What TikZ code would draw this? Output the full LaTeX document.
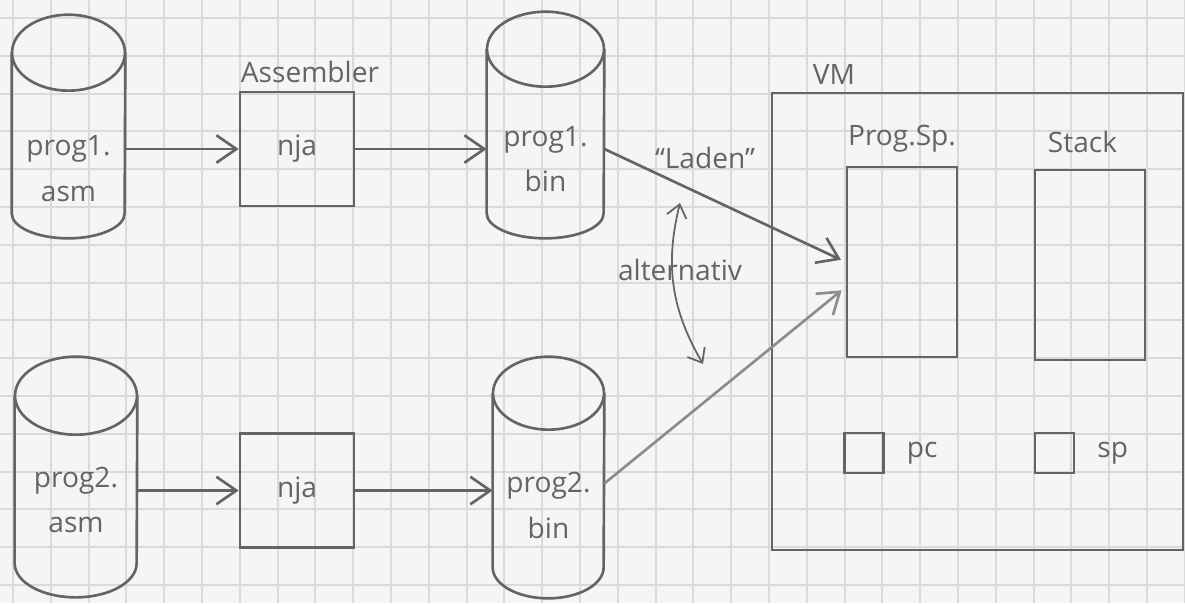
\documentclass[tikz,border=0pt]{standalone}
\usepackage{fontspec}
\setmainfont{Open Sans}
\usetikzlibrary{arrows.meta,positioning,calc}
\definecolor{pencil}{RGB}{100,100,100}
\definecolor{pencillight}{RGB}{140,140,140}
\definecolor{paper}{RGB}{245,245,245}
\definecolor{gridgray}{RGB}{218,218,218}
\tikzset{
  lbl/.style={text=pencil, align=center, font=\fontsize{16}{26}\selectfont, inner sep=1pt},
  dbbody/.style={inner sep=0pt},
  dbline/.style={draw=pencil, line width=1.5pt},
  asmbox/.style={draw=pencil, line width=1.5pt, minimum width=2.28cm, minimum height=2.28cm, text=pencil, font=\fontsize{16}{20}\selectfont},
  mem/.style={draw=pencil, line width=1.5pt, minimum width=2.2cm, minimum height=3.8cm},
  reg/.style={draw=pencil, line width=1.5pt, minimum width=0.78cm, minimum height=0.8cm},
  arrow/.style={-{Straight Barb[length=4mm,width=5.5mm]}, line width=1.5pt, draw=pencil},
  lightarrow/.style={arrow, draw=pencillight},
  altarrow/.style={{Straight Barb[length=2.5mm,width=4mm]}-{Straight Barb[length=2.5mm,width=4mm]}, line width=1pt, draw=pencil}
}
% database drum around a node: #1 node, #2 half width, #3 top cap, #4 bottom cap
\newcommand{\drum}[4]{%
  \draw[dbline] ([yshift=-#3]#1.north) ellipse [x radius=#2, y radius=#3];
  \draw[dbline] ([yshift=-#3]#1.north west) -- ([yshift=#4]#1.south west)
    arc[start angle=180, end angle=360, x radius=#2, y radius=#4] -- ([yshift=-#3]#1.north east);}

\begin{document}
\begin{tikzpicture}[x=0.02cm, y=-0.02cm]
  \useasboundingbox (0,0) rectangle (1185,603);
  \fill[paper] (0,0) rectangle (1185,603);
  % squared paper
  \foreach \k in {0,...,31} \draw[gridgray, line width=1.1pt] ({13+37.8*\k},0) -- ({13+37.8*\k},603);
  \foreach \k in {0,...,15} \draw[gridgray, line width=1.1pt] (0,{18+37.8*\k}) -- (1185,{18+37.8*\k});

  % first program
  \node[dbbody, minimum width=2.26cm, minimum height=4.46cm] (asmA) at (68.5,126.5) {};
  \drum{asmA}{1.13cm}{0.76cm}{0.5cm}
  \node[lbl] (asmAtxt) at ([yshift=-0.84cm]asmA.center) {prog1.\\asm};
  \node[asmbox] (njaA) at (297,149) {nja};
  \node[lbl, above=0.12cm of njaA, xshift=0.26cm] (assembler) {Assembler};
  \node[dbbody, minimum width=2.34cm, minimum height=4.52cm] (binA) at (545.5,125) {};
  \drum{binA}{1.17cm}{0.75cm}{0.5cm}
  \node[lbl] (binAtxt) at ([yshift=-0.68cm]binA.center) {prog1.\\bin};

  % second program
  \node[dbbody, minimum width=2.44cm, minimum height=4.8cm] (asmB) at (76,477) {};
  \drum{asmB}{1.22cm}{0.78cm}{0.68cm}
  \node[lbl] (asmBtxt) at ([yshift=-0.46cm]asmB.center) {prog2.\\asm};
  \node[asmbox] (njaB) at (297,490.5) {nja};
  \node[dbbody, minimum width=2.22cm, minimum height=4.82cm] (binB) at (548.5,477.5) {};
  \drum{binB}{1.11cm}{0.73cm}{0.62cm}
  \node[lbl] (binBtxt) at ([yshift=-0.56cm]binB.center) {prog2.\\bin};

  % virtual machine
  \node[draw=pencil, line width=1.5pt, minimum width=8.22cm, minimum height=9.14cm] (vm) at (977.5,321.5) {};
  \node[lbl, anchor=south west] (vmlabel) at ([xshift=0.8cm, yshift=0.1cm]vm.north west) {VM};
  \node[mem] (progsp) at (902,262) {};
  \node[lbl, above=0.22cm of progsp] (progsplabel) {Prog.Sp.};
  \node[mem] (stack) at (1090,265) {};
  \node[lbl, above=0.28cm of stack, xshift=-0.15cm] (stacklabel) {Stack};
  \node[reg] (pcreg) at (864,453) {};
  \node[lbl, right=0.4cm of pcreg] (pclabel) {pc};
  \node[reg] (spreg) at (1054.5,453) {};
  \node[lbl, right=0.4cm of spreg] (splabel) {sp};

  % arrows
  \draw[arrow] (njaA.west -| asmA.east) -- (njaA.west);
  \draw[arrow] (njaA.east) -- (njaA.east -| binA.west);
  \draw[arrow] (njaB.west -| asmB.east) -- (njaB.west);
  \draw[arrow] (njaB.east) -- (njaB.east -| binB.west);
  \draw[arrow, shorten >=3pt] (njaA.east -| binA.east) -- (progsp.west);
  \draw[lightarrow, shorten >=3pt] ([yshift=0.14cm]njaB.east -| binB.east) -- ([yshift=-0.5cm]progsp.west);
  \node[lbl] (laden) at (705,158) {``Laden''};

  \coordinate (altA) at (680,203);
  \coordinate (altB) at (703,364);
  \draw[altarrow] (altA) to[bend right=22] (altB);
  \node[lbl] (alt) at (680,270) {alternativ};
\end{tikzpicture}
\end{document}
